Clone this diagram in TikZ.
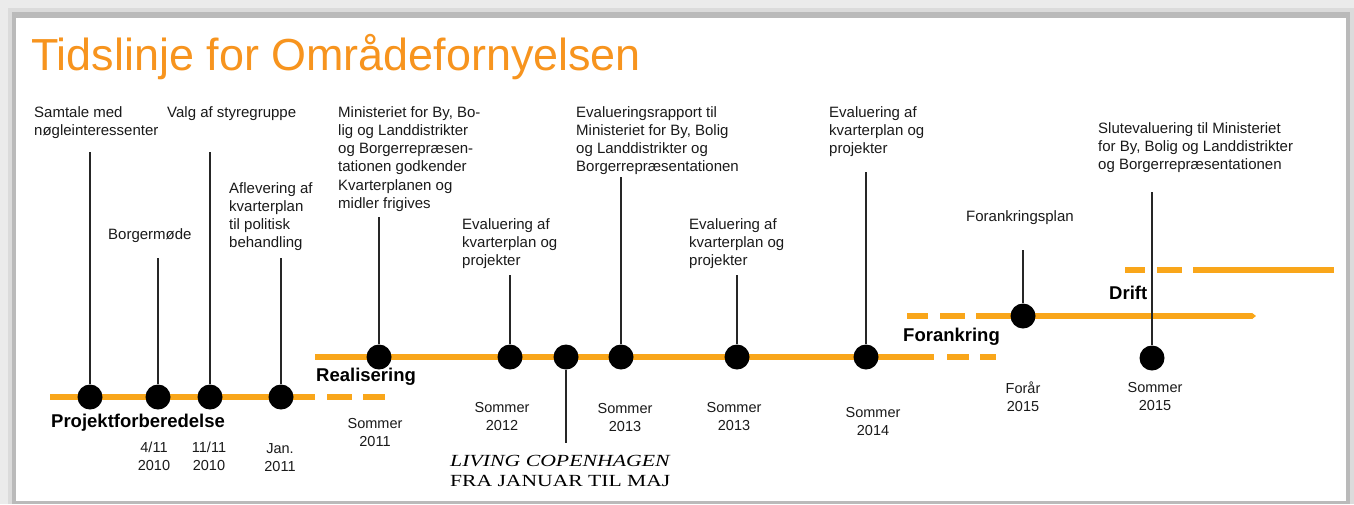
\documentclass[tikz,border=0pt]{standalone}
\usepackage{fontspec}
\setmainfont{Liberation Sans}
\newfontfamily\lcfont{Liberation Serif}
\usetikzlibrary{arrows.meta}
\definecolor{tl}{RGB}{249,166,26}
\definecolor{ttl}{RGB}{247,148,30}
\definecolor{txt}{RGB}{26,26,26}
\pgfdeclarelayer{bg}
\pgfsetlayers{bg,main}
\tikzset{
  tline/.style={tl, line width=6pt},
  conn/.style={black!85, line width=2pt},
  dotn/.style={circle, fill=black, minimum size=25pt, inner sep=0pt},
  lbl/.style={anchor=north west, inner sep=0pt, align=left, text=txt, font=\fontsize{15}{18.3}\selectfont},
  datel/.style={anchor=north, inner sep=0pt, align=center, text=txt, font=\fontsize{14.5}{18}\selectfont},
  phase/.style={anchor=west, inner sep=0pt, text=black, font=\fontsize{18.5}{22}\selectfont\bfseries},
}
\begin{document}
\begin{tikzpicture}[x=1pt,y=-1pt]
% frame
\begin{pgfonlayer}{bg}
\fill[black!8] (0,0) rectangle (1354,504);
\fill[black!14] (8,8) rectangle (1354,504);
\fill[black!27] (12,12) rectangle (1350,504);
\fill[white] (16,18) rectangle (1346,501);
\end{pgfonlayer}
\useasboundingbox (0,0) rectangle (1354,504);

% title
\node[anchor=base west, inner sep=0pt, text=ttl, font=\fontsize{44.9}{50}\selectfont] (title) at (31,70) {Tidslinje for Områdefornyelsen};

% dots
\node[dotn] (d1) at (90,397) {};
\node[dotn] (d2) at (158,397) {};
\node[dotn] (d3) at (210,397) {};
\node[dotn] (d4) at (281,397) {};
\node[dotn] (d5) at (379,357) {};
\node[dotn] (d6) at (510,357) {};
\node[dotn] (d7) at (566,357) {};
\node[dotn] (d8) at (621,357) {};
\node[dotn] (d9) at (737,357) {};
\node[dotn] (d10) at (866,357) {};
\node[dotn] (d11) at (1023,316) {};
\node[dotn] (d12) at (1152,358) {};

% connector ends
\coordinate (t1) at (90,152);
\coordinate (t2) at (158,258);
\coordinate (t3) at (210,152);
\coordinate (t4) at (281,258);
\coordinate (t5) at (379,217);
\coordinate (t6) at (510,275);
\coordinate (t7) at (566,443);
\coordinate (t8) at (621,177);
\coordinate (t9) at (737,275);
\coordinate (t10) at (866,172);
\coordinate (t11) at (1023,250);
\coordinate (t12) at (1152,192);

% event labels
\node[lbl] (l1) at (34,106) {Samtale med\\nøgleinteressenter};
\node[lbl] (l2) at (108,228) {Borgermøde};
\node[lbl] (l3) at (167,106) {Valg af styregruppe};
\node[lbl] (l4) at (229,182) {Aflevering af\\kvarterplan\\til politisk\\behandling};
\node[lbl] (l5) at (338,106) {Ministeriet for By, Bo-\\lig og Landdistrikter\\og Borgerrepræsen-\\tationen godkender\\Kvarterplanen og\\midler frigives};
\node[lbl] (l6) at (462,218) {Evaluering af\\kvarterplan og\\projekter};
\node[lbl] (l7) at (576,106) {Evalueringsrapport til\\Ministeriet for By, Bolig\\og Landdistrikter og\\Borgerrepræsentationen};
\node[lbl] (l8) at (689,218) {Evaluering af\\kvarterplan og\\projekter};
\node[lbl] (l9) at (829,106) {Evaluering af\\kvarterplan og\\projekter};
\node[lbl] (l10) at (966,210) {Forankringsplan};
\node[lbl] (l11) at (1098,122) {Slutevaluering til Ministeriet\\for By, Bolig og Landdistrikter\\og Borgerrepræsentationen};

% phases
\node[phase] (p1) at (51,423) {Projektforberedelse};
\node[phase] (p2) at (316,377) {Realisering};
\node[phase] (p3) at (903,337) {Forankring};
\node[phase] (p4) at (1109,293) {Drift};

% dates
\node[datel] (a1) at (154,442) {4/11\\2010};
\node[datel] (a2) at (209,442) {11/11\\2010};
\node[datel] (a3) at (280,443) {Jan.\\2011};
\node[datel] (a4) at (375,418) {Sommer\\2011};
\node[datel] (a5) at (502,402) {Sommer\\2012};
\node[datel] (a6) at (625,403) {Sommer\\2013};
\node[datel] (a7) at (734,402) {Sommer\\2013};
\node[datel] (a8) at (873,407) {Sommer\\2014};
\node[datel] (a9) at (1023,382) {Forår\\2015};
\node[datel] (a10) at (1155,382) {Sommer\\2015};

% Living Copenhagen
\node[anchor=north west, inner sep=0pt, align=left, text=black, font=\lcfont\fontsize{17}{20}\selectfont] (lc) at (450,455)
  {\scalebox{1.28}[1]{\itshape LIVING COPENHAGEN}\\
   \scalebox{1.27}[1]{FRA JANUAR TIL MAJ}};

\begin{pgfonlayer}{bg}
% timeline bars
\draw[tline] (50,397) -- (315,397);
\draw[tline] (327,397) -- (352,397);
\draw[tline] (363,397) -- (385,397);
\draw[tline] (315,357) -- (934,357);
\draw[tline] (947,357) -- (969,357);
\draw[tline] (980,357) -- (996,357);
\draw[tline] (907,316) -- (928,316);
\draw[tline] (940,316) -- (965,316);
\draw[tline, -{Triangle[length=4pt,width=6pt]}] (976,316) -- (1256,316);
\draw[tline] (1125,270) -- (1145,270);
\draw[tline] (1157,270) -- (1182,270);
\draw[tline] (1193,270) -- (1334,270);
% connectors
\draw[conn] (t1) -- (d1);
\draw[conn] (t2) -- (d2);
\draw[conn] (t3) -- (d3);
\draw[conn] (t4) -- (d4);
\draw[conn] (t5) -- (d5);
\draw[conn] (t6) -- (d6);
\draw[conn] (d7) -- (t7);
\draw[conn] (t8) -- (d8);
\draw[conn] (t9) -- (d9);
\draw[conn] (t10) -- (d10);
\draw[conn] (t11) -- (d11);
\draw[conn] (t12) -- (d12);
\end{pgfonlayer}
\end{tikzpicture}
\end{document}
